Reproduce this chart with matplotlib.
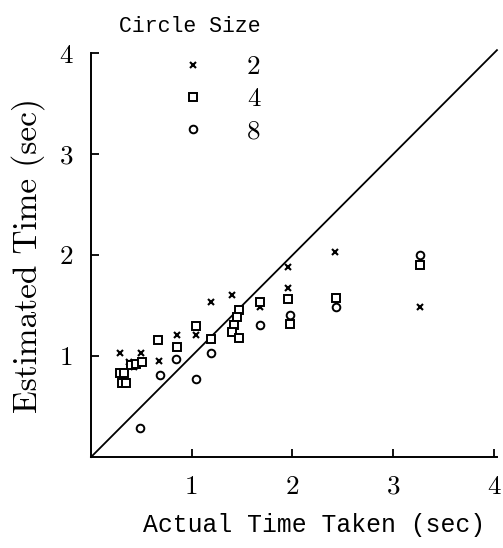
import matplotlib
matplotlib.use("Agg")
import matplotlib.pyplot as plt
from matplotlib.lines import Line2D

# Data
x2 = [0.29, 0.38, 0.43, 0.50, 0.67, 0.85, 1.04, 1.19, 1.40, 1.47, 1.68, 1.96, 1.96, 2.42, 3.27]
y2 = [1.03, 0.94, 0.89, 1.03, 0.95, 1.21, 1.21, 1.54, 1.60, 1.47, 1.49, 1.88, 1.67, 2.03, 1.49]
x4 = [0.29, 0.33, 0.31, 0.35, 0.40, 0.45, 0.51, 0.66, 0.85, 1.04, 1.19, 1.47, 1.45, 1.42, 1.40,
      1.47, 1.68, 1.96, 1.98, 2.43, 3.27]
y4 = [0.83, 0.83, 0.73, 0.73, 0.91, 0.92, 0.94, 1.16, 1.09, 1.30, 1.17, 1.46, 1.39, 1.31, 1.24,
      1.18, 1.54, 1.57, 1.32, 1.58, 1.90]
x8 = [0.49, 0.68, 0.84, 1.04, 1.19, 1.68, 1.98, 2.43, 3.27]
y8 = [0.29, 0.81, 0.97, 0.77, 1.03, 1.31, 1.41, 1.49, 2.00]
ref_line = [0, 4.03]
ticks = [1, 2, 3, 4]
legend_labels = ["2", "4", "8"]
legend_title = "Circle Size"

serif = "cmr10"
mono = "Liberation Mono"

fig = plt.figure(figsize=(5.03, 5.48), dpi=100)
ax = fig.add_axes([0.181, 0.166, 0.807, 0.737])

ax.plot(ref_line, ref_line, color="black", lw=1.3, clip_on=False)
ax.plot(x2, y2, linestyle="none", marker="x", ms=4, mew=1.5, color="black")
ax.plot(x4, y4, linestyle="none", marker="s", ms=5.5, mew=1.4, mfc="white", mec="black")
ax.plot(x8, y8, linestyle="none", marker="o", ms=5.5, mew=1.4, mfc="white", mec="black")

ax.set_xlim(0, 4.03)
ax.set_ylim(0, 4.0)
ax.set_xticks(ticks)
ax.set_yticks(ticks)
ax.set_xticklabels([str(t) for t in ticks], fontfamily=serif, fontsize=19.5)
ax.set_yticklabels([str(t) for t in ticks], fontfamily=serif, fontsize=19.5)
ax.tick_params(direction="in", length=6, width=1.3, pad=13)
for s in ["top", "right"]:
    ax.spines[s].set_visible(False)
for s in ["left", "bottom"]:
    ax.spines[s].set_linewidth(1.4)

ax.set_xlabel("Actual Time Taken (sec)", fontfamily=mono, fontsize=17.8, labelpad=10, x=0.549)
ax.set_ylabel("Estimated Time (sec)", fontfamily=serif, fontsize=24, labelpad=10)

handles = [
    Line2D([], [], linestyle="none", marker="x", ms=4, mew=1.5, color="black"),
    Line2D([], [], linestyle="none", marker="s", ms=5.5, mew=1.4, mfc="white", mec="black"),
    Line2D([], [], linestyle="none", marker="o", ms=5.5, mew=1.4, mfc="white", mec="black"),
]
leg = fig.legend(handles, legend_labels, loc="center",
                 bbox_to_anchor=(0.437, 0.819), frameon=False,
                 prop={"family": serif, "size": 19.5},
                 labelspacing=0.3, handletextpad=1.5, handlelength=1.0)
fig.text(0.378, 0.951, legend_title, ha="center", va="center", fontfamily=mono, fontsize=15.5)

fig.savefig("out.png", dpi=100, facecolor="white")
